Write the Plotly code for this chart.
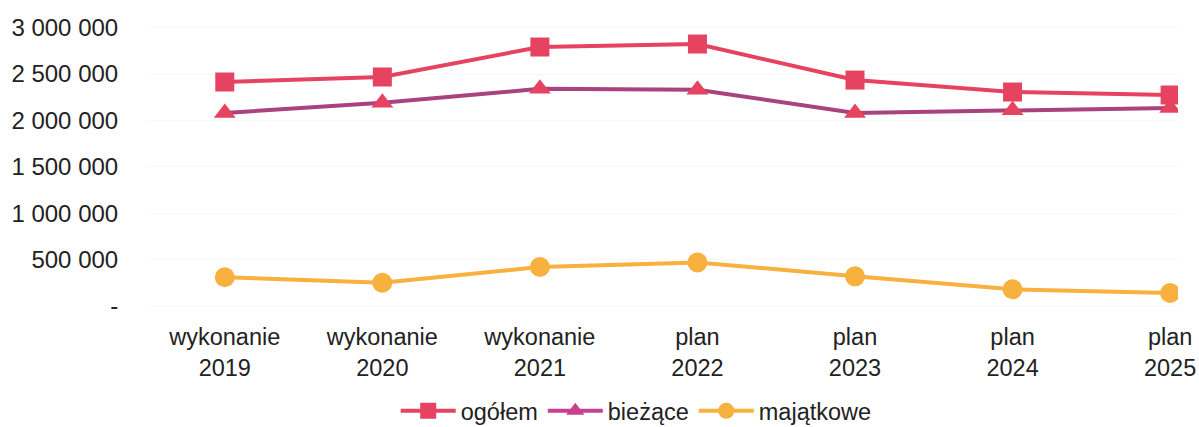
import plotly.graph_objects as go

categories = ["wykonanie<br>2019", "wykonanie<br>2020", "wykonanie<br>2021",
              "plan<br>2022", "plan<br>2023", "plan<br>2024", "plan<br>2025"]
ogolem = [2414000, 2468000, 2791000, 2823000, 2435000, 2306000, 2274000]
biezace = [2080000, 2190000, 2340000, 2330000, 2080000, 2110000, 2135000]
majatkowe = [310000, 250000, 420000, 470000, 320000, 180000, 140000]

tick_vals = [0, 500000, 1000000, 1500000, 2000000, 2500000, 3000000]
tick_text = ["-", "500 000", "1 000 000", "1 500 000", "2 000 000", "2 500 000", "3 000 000"]

RED = "#E5435F"
PURPLE = "#A8437F"
MAGENTA = "#C8418E"
ORANGE = "#F8B03E"
FONT = "Liberation Sans, Arial, sans-serif"
FS = 23.5

fig = go.Figure()
fig.add_trace(go.Scatter(x=categories, y=majatkowe, mode="lines+markers", name="majątkowe",
                         line=dict(color=ORANGE, width=4),
                         marker=dict(symbol="circle", size=20, color=ORANGE),
                         legendrank=3))
fig.add_trace(go.Scatter(x=categories, y=biezace, mode="lines+markers", name="bieżące",
                         line=dict(color=PURPLE, width=4),
                         marker=dict(symbol="triangle-up", size=19, color=RED),
                         showlegend=False))
fig.add_trace(go.Scatter(x=categories, y=ogolem, mode="lines+markers", name="ogółem",
                         line=dict(color=RED, width=4),
                         marker=dict(symbol="square", size=19, color=RED),
                         legendrank=1))
# legend entry for bieżące (magenta as in the reference legend)
fig.add_trace(go.Scatter(x=[None], y=[None], mode="lines+markers", name="bieżące",
                         line=dict(color=MAGENTA, width=4),
                         marker=dict(symbol="triangle-up", size=19, color=MAGENTA),
                         legendrank=2))

fig.update_layout(
    width=1199, height=427,
    margin=dict(l=146, r=21, t=15, b=112, autoexpand=False),
    paper_bgcolor="white", plot_bgcolor="white",
    font=dict(family=FONT, size=FS, color="#222222"),
    showlegend=True,
    legend=dict(orientation="h", xref="paper", yref="paper",
                x=0.475, xanchor="center", y=-0.32, yanchor="middle",
                font=dict(size=FS), itemwidth=55, tracegroupgap=0,
                traceorder="normal"),
)
fig.update_xaxes(type="category", range=[-0.5, 6.05], showgrid=False, zeroline=False,
                 showline=False, ticks="outside", ticklen=1, tickcolor="rgba(0,0,0,0)",
                 tickfont=dict(size=FS), automargin=False)
fig.update_yaxes(range=[-97000, 3136000], tickvals=tick_vals, ticktext=tick_text,
                 showgrid=True, gridcolor="#f8f8f8", gridwidth=1, zeroline=False,
                 showline=False, ticks="outside", ticklen=22, tickcolor="rgba(0,0,0,0)",
                 tickfont=dict(size=24), automargin=False)

fig.write_html("out.html",
               config={"displayModeBar": False},
               post_script="document.body.style.margin='0';document.body.style.overflow='hidden';")
